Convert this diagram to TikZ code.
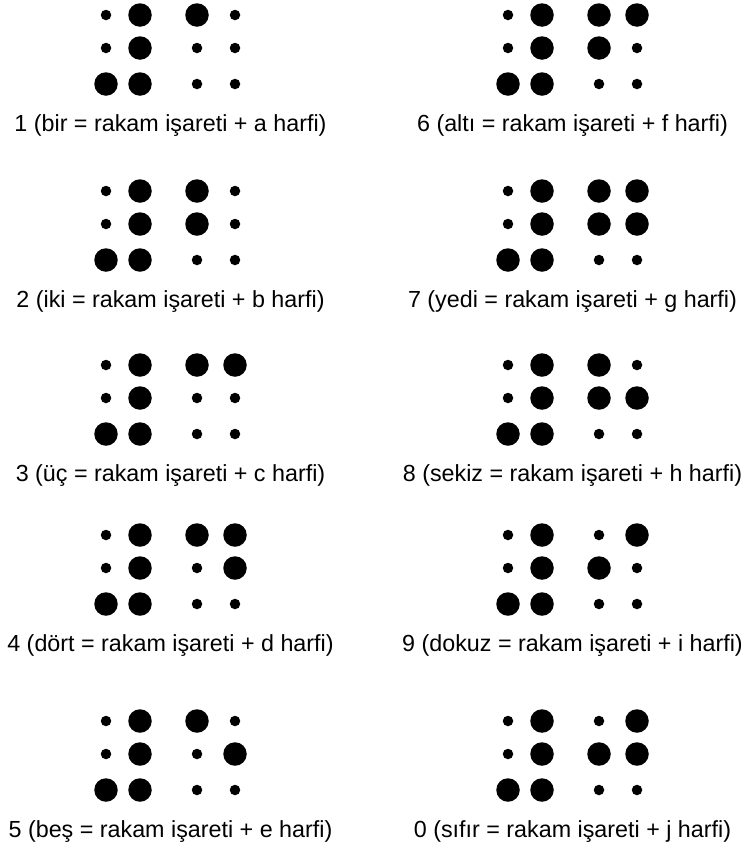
\documentclass[tikz,border=0pt]{standalone}
\usepackage{fontspec}
\setmainfont{Liberation Sans}
\usetikzlibrary{positioning}
\tikzset{
  bigdot/.style={circle,fill=black,inner sep=0pt,minimum size=23.5pt},
  smalldot/.style={circle,fill=black,inner sep=0pt,minimum size=10.5pt},
  caption/.style={anchor=base,inner sep=0pt,font=\fontsize{23.3}{28}\selectfont}
}
% one braille cell: name, x and y of dot 1, column gap, six flags (1 = raised)
\newcommand{\braillecell}[5]{%
  \foreach \f [count=\k] in {#5} {%
    \pgfmathsetmacro\cx{#2+(\k>3)*#4}%
    \pgfmathsetmacro\cy{#3+(mod(\k-1,3)==1)*33+(mod(\k-1,3)==2)*69}%
    \ifnum\f=1 \node[bigdot] (#1-\k) at (\cx,\cy) {};%
    \else \node[smalldot] (#1-\k) at (\cx,\cy) {};\fi
  }}
% a digit: number sign + letter cell + caption
\newcommand{\digitentry}[5]{%
  \braillecell{#1n}{#2}{#3}{34}{0,0,1,1,1,1}
  \braillecell{#1l}{#2+91}{#3}{38}{#4}
  \node[caption] (#1t) at (#2+64.5,#3+116) {#5};}

\begin{document}
\begin{tikzpicture}[x=1pt,y=-1pt]
  \useasboundingbox (0,0) rectangle (745,852);
  \digitentry{d1}{106}{15}{1,0,0,0,0,0}{1 (bir = rakam işareti + a harfi)}
  \digitentry{d2}{106}{191}{1,1,0,0,0,0}{2 (iki = rakam işareti + b harfi)}
  \digitentry{d3}{106}{365}{1,0,0,1,0,0}{3 (üç = rakam işareti + c harfi)}
  \digitentry{d4}{106}{535}{1,0,0,1,1,0}{4 (dört = rakam işareti + d harfi)}
  \digitentry{d5}{106}{721}{1,0,0,0,1,0}{5 (beş = rakam işareti + e harfi)}
  \digitentry{d6}{508}{15}{1,1,0,1,0,0}{6 (altı = rakam işareti + f harfi)}
  \digitentry{d7}{508}{191}{1,1,0,1,1,0}{7 (yedi = rakam işareti + g harfi)}
  \digitentry{d8}{508}{365}{1,1,0,0,1,0}{8 (sekiz = rakam işareti + h harfi)}
  \digitentry{d9}{508}{535}{0,1,0,1,0,0}{9 (dokuz = rakam işareti + i harfi)}
  \digitentry{d0}{508}{721}{0,1,0,1,1,0}{0 (sıfır = rakam işareti + j harfi)}
\end{tikzpicture}
\end{document}
